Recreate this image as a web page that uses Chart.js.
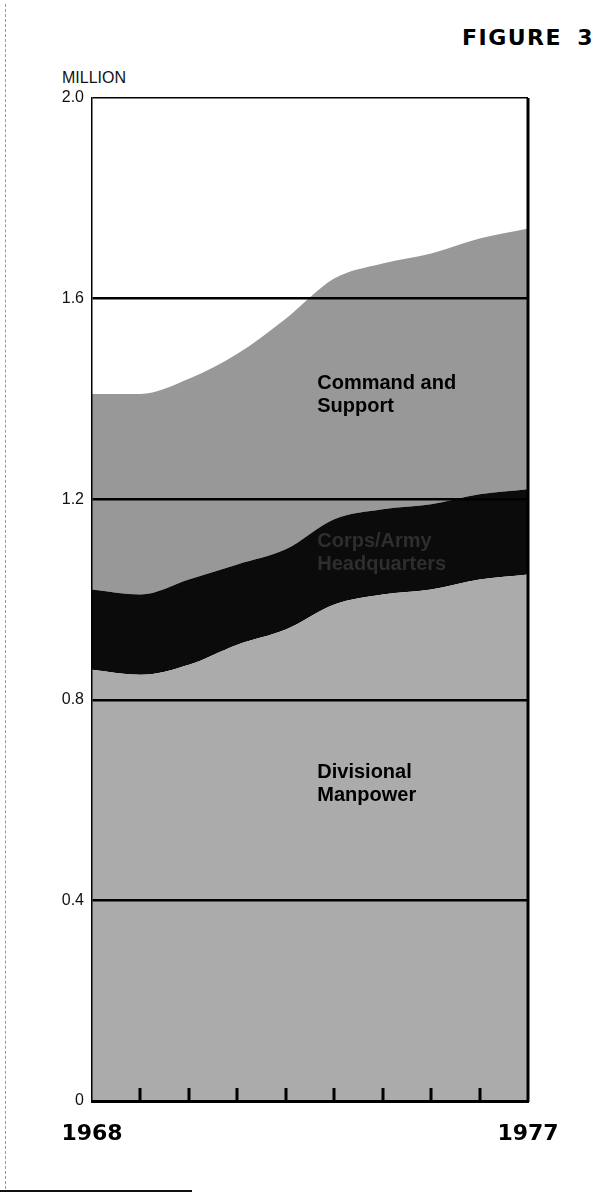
<!DOCTYPE html>
<html>
<head>
<meta charset="utf-8">
<script src="https://cdn.jsdelivr.net/npm/chart.js@4"></script>
<style>
body { margin: 0; background: #fff; }
#wrap { position: relative; width: 603px; height: 1193px; overflow: hidden; }
#wrap canvas { position: absolute; left: 0; top: 0; }
.fig { position: absolute; right: 9px; top: 25px; font: bold 22px "DejaVu Sans"; letter-spacing: 1.5px; word-spacing: 6px; }
.unit { position: absolute; left: 62px; top: 69px; font: 16px "Liberation Sans"; color: #111; }
.edge { position: absolute; left: 5px; top: 4px; bottom: 4px; border-left: 1px dashed #999; }
.foot { position: absolute; left: 0; bottom: 1px; width: 192px; border-top: 2px solid #111; }
</style>
</head>
<body>
<div id="wrap">
  <div class="edge"></div>
  <div class="foot"></div>
  <div class="fig">FIGURE 3</div>
  <div class="unit">MILLION</div>
  <canvas id="myChart" width="603" height="1193"></canvas>
</div>
<script>
// data, million men
const years = [1968, 1969, 1970, 1971, 1972, 1973, 1974, 1975, 1976, 1977];
const divisional = [0.86, 0.85, 0.87, 0.91, 0.94, 0.99, 1.01, 1.02, 1.04, 1.05];
const headquarters = [0.16, 0.16, 0.17, 0.16, 0.16, 0.17, 0.17, 0.17, 0.17, 0.17];
const commandSupport = [0.39, 0.40, 0.40, 0.42, 0.46, 0.48, 0.49, 0.50, 0.51, 0.52];
const yTicks = [0, 0.4, 0.8, 1.2, 1.6, 2.0];
const yearLabels = [1968, 1977];

// text inside the areas
const areaLabels = [
    { lines: ['Command and', 'Support'], x: 1972.65, y: 1.43, color: '#000' },
    { lines: ['Corps/Army', 'Headquarters'], x: 1972.65, y: 1.115, color: '#2e2e2e' },
    { lines: ['Divisional', 'Manpower'], x: 1972.65, y: 0.656, color: '#000' }
];

const toPoints = arr => arr.map((v, i) => ({ x: years[i], y: v }));

const areaText = {
    id: 'areaText',
    afterDraw(chart) {
        const { ctx, scales: { x, y } } = chart;
        ctx.save();
        ctx.font = 'bold 20px "Liberation Sans"';
        ctx.textBaseline = 'middle';
        ctx.textAlign = 'left';
        areaLabels.forEach(l => {
            const px = x.getPixelForValue(l.x);
            const py = y.getPixelForValue(l.y);
            ctx.fillStyle = l.color;
            l.lines.forEach((t, i) => ctx.fillText(t, px, py + i * 23));
        });
        ctx.restore();
    }
};

// inward year ticks on the bottom and the heavy right edge
const frame = {
    id: 'frame',
    afterDraw(chart) {
        const { ctx, chartArea: a, scales: { x } } = chart;
        ctx.save();
        ctx.strokeStyle = '#000';
        ctx.lineWidth = 3;
        years.slice(1, -1).forEach(yr => {
            const px = Math.round(x.getPixelForValue(yr));
            ctx.beginPath();
            ctx.moveTo(px, a.bottom);
            ctx.lineTo(px, a.bottom - 13);
            ctx.stroke();
        });
        ctx.beginPath();
        ctx.moveTo(a.right, a.top);
        ctx.lineTo(a.right, a.bottom + 1);
        ctx.stroke();
        ctx.restore();
    }
};

new Chart(document.getElementById('myChart').getContext('2d'), {
    type: 'line',
    data: {
        datasets: [
            { label: 'Divisional Manpower', data: toPoints(divisional), backgroundColor: '#ababab', fill: 'origin' },
            { label: 'Corps/Army Headquarters', data: toPoints(headquarters), backgroundColor: '#0b0b0b', fill: '-1' },
            { label: 'Command and Support', data: toPoints(commandSupport), backgroundColor: '#989898', fill: '-1' }
        ]
    },
    options: {
        responsive: false,
        animation: false,
        layout: { padding: { left: 0, right: 75, top: 98, bottom: 0 } },
        elements: {
            line: { borderWidth: 0, cubicInterpolationMode: 'monotone' },
            point: { radius: 0 }
        },
        plugins: { legend: { display: false }, tooltip: { enabled: false } },
        scales: {
            x: {
                type: 'linear',
                min: years[0],
                max: years[years.length - 1],
                afterFit: s => { s.height = 92; },
                afterBuildTicks: s => { s.ticks = yearLabels.map(v => ({ value: v })); },
                grid: { display: false, drawTicks: false },
                border: { display: true, color: '#000', width: 3, z: 2 },
                ticks: {
                    padding: 20,
                    maxRotation: 0,
                    color: '#000',
                    font: { family: 'DejaVu Sans', weight: 'bold', size: 22 },
                    callback: v => String(v)
                }
            },
            y: {
                stacked: true,
                min: 0,
                max: 2.0,
                afterFit: s => { s.width = 92; },
                afterBuildTicks: s => { s.ticks = yTicks.map(v => ({ value: v })); },
                grid: {
                    z: 1,
                    drawTicks: false,
                    tickLength: 0,
                    color: c => c.tick.value === 0 ? 'rgba(0,0,0,0)' : '#000',
                    lineWidth: c => c.tick.value === 2 ? 1.5 : 2.5
                },
                border: { display: true, color: '#000', width: 1.5, z: 2 },
                ticks: {
                    padding: 8,
                    color: '#111',
                    font: { family: 'Liberation Sans', size: 16 },
                    callback: v => v === 0 ? '0' : v.toFixed(1)
                }
            }
        }
    },
    plugins: [areaText, frame]
});
</script>
</body>
</html>
